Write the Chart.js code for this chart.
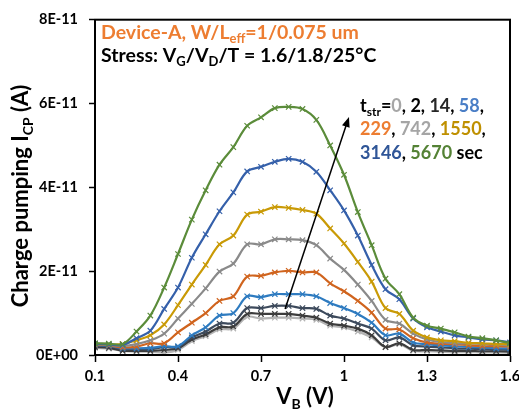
<!DOCTYPE html>
<html>
<head>
<meta charset="utf-8">
<script src="https://cdn.jsdelivr.net/npm/chart.js@4.4.1/dist/chart.umd.min.js"></script>
<style>
  body { margin: 0; background: #fff; }
  canvas { display: block; }
</style>
</head>
<body>
<canvas id="cpChart" width="519" height="409"></canvas>
<script>
// gate voltage sweep V_B (V), 0.05 V steps
const vb = [0.1, 0.15, 0.2, 0.25, 0.3, 0.35, 0.4, 0.45, 0.5, 0.55, 0.6, 0.65, 0.7, 0.75, 0.8, 0.85,
  0.9, 0.95, 1.0, 1.05, 1.1, 1.15, 1.2, 1.25, 1.3, 1.35, 1.4, 1.45, 1.5, 1.55, 1.6];

// charge pumping current, in units of 1E-11 A, one list per stress time
const t0 = [0.17, 0.15, 0.10, 0.08, 0.08, 0.06, 0.12, 0.33, 0.45, 0.61, 0.63, 0.91, 0.87, 0.89, 0.89, 0.87,
  0.84, 0.70, 0.66, 0.56, 0.42, 0.19, 0.26, 0.10, 0.09, 0.08, 0.07, 0.07, 0.06, 0.06, 0.05];
const t2 = [0.19, 0.17, 0.10, 0.10, 0.10, 0.12, 0.16, 0.37, 0.49, 0.66, 0.68, 0.98, 0.98, 0.98, 0.98, 0.94,
  0.89, 0.75, 0.70, 0.63, 0.47, 0.19, 0.28, 0.12, 0.12, 0.11, 0.10, 0.10, 0.09, 0.09, 0.08];
const t14 = [0.23, 0.21, 0.14, 0.14, 0.14, 0.19, 0.19, 0.42, 0.56, 0.75, 0.77, 1.12, 1.12, 1.17, 1.17, 1.12,
  1.10, 0.94, 0.87, 0.75, 0.63, 0.35, 0.42, 0.23, 0.20, 0.18, 0.16, 0.15, 0.14, 0.13, 0.12];
const t58 = [0.24, 0.22, 0.16, 0.16, 0.17, 0.21, 0.21, 0.47, 0.66, 0.94, 1.00, 1.40, 1.38, 1.45, 1.45, 1.45,
  1.40, 1.24, 1.12, 0.98, 0.77, 0.47, 0.51, 0.30, 0.26, 0.23, 0.21, 0.19, 0.18, 0.16, 0.16];
const t229 = [0.25, 0.23, 0.18, 0.20, 0.28, 0.28, 0.54, 0.77, 1.00, 1.29, 1.40, 1.87, 1.89, 1.97, 2.01, 1.97,
  1.97, 1.71, 1.52, 1.29, 1.01, 0.63, 0.61, 0.40, 0.30, 0.27, 0.26, 0.23, 0.21, 0.21, 0.20];
const t742 = [0.26, 0.24, 0.22, 0.26, 0.35, 0.51, 0.87, 1.22, 1.59, 1.99, 2.18, 2.64, 2.64, 2.76, 2.76, 2.74,
  2.62, 2.30, 2.03, 1.68, 1.29, 0.84, 0.75, 0.51, 0.37, 0.31, 0.28, 0.28, 0.26, 0.25, 0.23];
const t1550 = [0.27, 0.25, 0.26, 0.35, 0.47, 0.73, 1.19, 1.68, 2.15, 2.64, 2.85, 3.35, 3.42, 3.53, 3.51, 3.46,
  3.37, 3.02, 2.66, 2.22, 1.75, 1.12, 0.98, 0.58, 0.42, 0.35, 0.33, 0.29, 0.28, 0.26, 0.26];
const t3146 = [0.27, 0.25, 0.24, 0.40, 0.58, 1.10, 1.61, 2.32, 2.88, 3.43, 3.88, 4.38, 4.49, 4.61, 4.68, 4.61,
  4.37, 3.93, 3.45, 2.85, 2.15, 1.57, 1.33, 0.87, 0.66, 0.56, 0.47, 0.42, 0.37, 0.35, 0.30];
const t5670 = [0.28, 0.27, 0.26, 0.56, 0.94, 1.61, 2.41, 3.23, 3.93, 4.54, 4.96, 5.47, 5.67, 5.89, 5.92, 5.87,
  5.61, 5.00, 4.30, 3.41, 2.62, 1.82, 1.45, 0.89, 0.70, 0.63, 0.54, 0.44, 0.40, 0.35, 0.28];

const stressTimes = ["0", "2", "14", "58", "229", "742", "1550", "3146", "5670"];
const lineColors = ["#b4b4b4", "#3c3c3c", "#3d4a5c", "#2e7bc0", "#d0641e", "#8a8a8a", "#c99a06", "#3560aa", "#5b8c3a"];
const textColors = ["#a6a6a6", "#000000", "#262626", "#4a7ec6", "#ed7d31", "#a5a5a5", "#bf9000", "#2f5597", "#548235"];

const xTicks = [0.1, 0.4, 0.7, 1, 1.3, 1.6];
const yTicks = [0, 2, 4, 6, 8];
const yTickLabels = ["0E+00", "2E-11", "4E-11", "6E-11", "8E-11"];

// arrow showing increasing stress time (V, 1E-11 A)
const arrowFrom = [0.787, 1.10];
const arrowTo = [1.018, 5.68];

const FONT = "Lato, 'Open Sans', sans-serif";
const allSeries = [t0, t2, t14, t58, t229, t742, t1550, t3146, t5670];

const datasets = allSeries.map((vals, i) => ({
  label: stressTimes[i] + " sec",
  data: vals.map((v, k) => ({ x: vb[k], y: v })),
  borderColor: lineColors[i],
  backgroundColor: lineColors[i],
  borderWidth: 2.2,
  pointStyle: "crossRot",
  pointRadius: 3.8,
  pointBorderWidth: 1.2,
  pointBorderColor: lineColors[i],
  tension: 0.35,
  order: allSeries.length - i,
}));

// draw text runs with subscripts and colours
function drawRuns(ctx, x, y, runs, size) {
  runs.forEach((r) => {
    const sub = r.sub;
    const fs = sub ? Math.round(size * 0.65) : size;
    ctx.font = "bold " + fs + "px " + FONT;
    ctx.fillStyle = r.color || "#000";
    ctx.fillText(r.t, x, sub ? y + size * 0.22 : y);
    x += ctx.measureText(r.t).width;
  });
  return x;
}

function runsWidth(ctx, runs, size) {
  let w = 0;
  runs.forEach((r) => {
    ctx.font = "bold " + (r.sub ? Math.round(size * 0.65) : size) + "px " + FONT;
    w += ctx.measureText(r.t).width;
  });
  return w;
}

const decorations = {
  id: "decorations",
  afterDraw(chart) {
    const ctx = chart.ctx;
    const a = chart.chartArea;
    const xs = chart.scales.x;
    const ys = chart.scales.y;
    ctx.save();

    // plot frame
    ctx.strokeStyle = "#000";
    ctx.lineWidth = 2;
    ctx.strokeRect(a.left, a.top, a.right - a.left, a.bottom - a.top);

    // arrow
    const x1 = xs.getPixelForValue(arrowFrom[0]);
    const y1 = ys.getPixelForValue(arrowFrom[1]);
    const x2 = xs.getPixelForValue(arrowTo[0]);
    const y2 = ys.getPixelForValue(arrowTo[1]);
    const ang = Math.atan2(y2 - y1, x2 - x1);
    ctx.lineWidth = 1.5;
    ctx.beginPath();
    ctx.moveTo(x1, y1);
    ctx.lineTo(x2 - 7 * Math.cos(ang), y2 - 7 * Math.sin(ang));
    ctx.stroke();
    ctx.beginPath();
    ctx.moveTo(x2, y2);
    ctx.lineTo(x2 - 10 * Math.cos(ang) + 4 * Math.sin(ang), y2 - 10 * Math.sin(ang) - 4 * Math.cos(ang));
    ctx.lineTo(x2 - 10 * Math.cos(ang) - 4 * Math.sin(ang), y2 - 10 * Math.sin(ang) + 4 * Math.cos(ang));
    ctx.closePath();
    ctx.fillStyle = "#000";
    ctx.fill();

    ctx.textBaseline = "alphabetic";
    ctx.textAlign = "left";

    // header lines
    drawRuns(ctx, 101, 39, [
      { t: "Device-A, W/L", color: "#ed7d31" },
      { t: "eff", sub: true, color: "#ed7d31" },
      { t: "=1/0.075 um", color: "#ed7d31" },
    ], 19.5);
    drawRuns(ctx, 101, 62, [
      { t: "Stress: V" }, { t: "G", sub: true }, { t: "/V" }, { t: "D", sub: true },
      { t: "/T = 1.6/1.8/25°C" },
    ], 19.5);

    // stress time legend
    const c = textColors;
    const lx = 360;
    drawRuns(ctx, lx, 112, [
      { t: "t" }, { t: "str", sub: true }, { t: "=" },
      { t: stressTimes[0], color: c[0] }, { t: ", " },
      { t: stressTimes[1], color: c[1] }, { t: ", " },
      { t: stressTimes[2], color: c[2] }, { t: ", " },
      { t: stressTimes[3], color: c[3] }, { t: "," },
    ], 18);
    drawRuns(ctx, lx, 135, [
      { t: stressTimes[4], color: c[4] }, { t: ", " },
      { t: stressTimes[5], color: c[5] }, { t: ", " },
      { t: stressTimes[6], color: c[6] }, { t: "," },
    ], 18);
    drawRuns(ctx, lx, 159, [
      { t: stressTimes[7], color: c[7] }, { t: ", " },
      { t: stressTimes[8], color: c[8] }, { t: " sec" },
    ], 18);

    // x axis title
    const xt = [{ t: "V" }, { t: "B", sub: true }, { t: " (V)" }];
    drawRuns(ctx, 305 - runsWidth(ctx, xt, 22) / 2, 404, xt, 22);

    // y axis title, rotated
    ctx.translate(28, 196);
    ctx.rotate(-Math.PI / 2);
    const yt = [{ t: "Charge pumping I" }, { t: "CP", sub: true }, { t: " (A)" }];
    drawRuns(ctx, -runsWidth(ctx, yt, 22) / 2, 0, yt, 22);

    ctx.restore();
  },
};

new Chart(document.getElementById("cpChart"), {
  type: "line",
  data: { datasets },
  options: {
    responsive: false,
    animation: false,
    layout: { padding: { top: 13, right: 9, left: 0, bottom: 0 } },
    plugins: { legend: { display: false }, tooltip: { enabled: false } },
    scales: {
      x: {
        type: "linear",
        min: 0.1,
        max: 1.6,
        afterBuildTicks: (s) => { s.ticks = xTicks.map((v) => ({ value: v })); },
        afterFit: (s) => { s.height = 54; s.paddingLeft = 0; s.paddingRight = 0; },
        border: { color: "#000", width: 2 },
        grid: { drawOnChartArea: false, tickLength: 7, tickColor: "#000", tickWidth: 1.5 },
        ticks: {
          padding: 6,
          color: "#000",
          font: { family: FONT, size: 14.5, weight: "bold" },
          callback: (v) => String(v),
          maxRotation: 0,
        },
      },
      y: {
        min: 0,
        max: 8,
        afterBuildTicks: (s) => { s.ticks = yTicks.map((v) => ({ value: v })); },
        afterFit: (s) => { s.width = 95; },
        border: { color: "#000", width: 2 },
        grid: { drawOnChartArea: false, tickLength: 6, tickColor: "#000", tickWidth: 1.5 },
        ticks: {
          padding: 11,
          color: "#000",
          font: { family: FONT, size: 14.5, weight: "bold" },
          callback: (v) => yTickLabels[yTicks.indexOf(v)],
        },
      },
    },
  },
  plugins: [decorations],
});
</script>
</body>
</html>
